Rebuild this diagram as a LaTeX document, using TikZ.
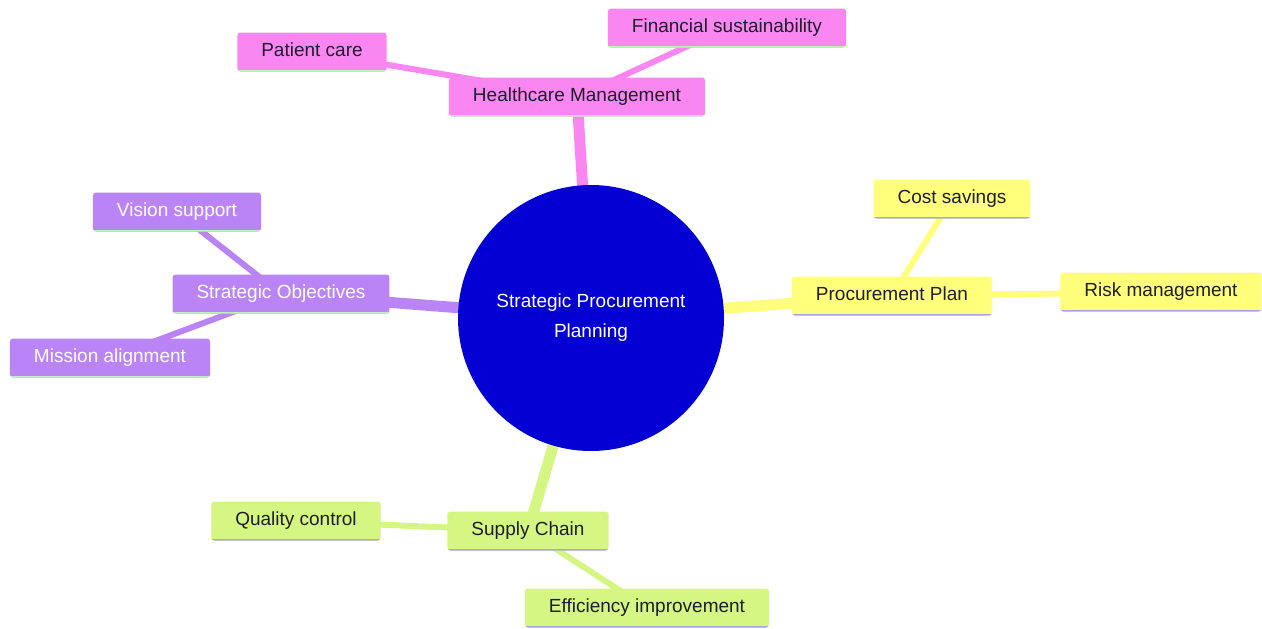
\documentclass[tikz,border=0pt]{standalone}
\usepackage{fontspec}
\setmainfont{Liberation Sans}
\usetikzlibrary{backgrounds}

\definecolor{hubblue}{RGB}{4,0,212}
\definecolor{hcpink}{RGB}{250,134,242}
\definecolor{stpurple}{RGB}{186,132,246}
\definecolor{ppyellow}{RGB}{255,255,124}
\definecolor{scgreen}{RGB}{214,246,132}
\definecolor{edgegreen}{RGB}{190,240,190}
\definecolor{edgelav}{RGB}{170,165,230}
\definecolor{textdark}{RGB}{30,30,40}

\tikzset{bottomline/.style = {path picture={%
    \draw[line width=4pt,#1] (path picture bounding box.south west) -- (path picture bounding box.south east);}}}
\tikzset{box/.style = {rectangle, rounded corners=3pt, minimum height=39pt,
    inner xsep=24pt, inner ysep=0pt, text height=13pt, text depth=4pt,
    font=\fontsize{19}{22}\selectfont}}
\tikzset{pinkbox/.style = {box, fill=hcpink, text=textdark, bottomline=edgegreen}}
\tikzset{purplebox/.style = {box, fill=stpurple, text=white, bottomline=edgegreen}}
\tikzset{yellowbox/.style = {box, fill=ppyellow, text=textdark, bottomline=edgelav}}
\tikzset{greenbox/.style = {box, fill=scgreen, text=textdark, bottomline=edgelav}}
\tikzset{branch/.style = {line width=11pt}}
\tikzset{twig/.style = {line width=6pt}}

\begin{document}
\begin{tikzpicture}[x=1pt, y=-1pt]
    \useasboundingbox (0,0) rectangle (1262,629);

    \node (hub) [circle, fill=hubblue, text=white, minimum size=266pt, align=center,
        font=\fontsize{19}{30}\selectfont] at (591,318) {Strategic Procurement\\Planning};

    \node (health) [pinkbox] at (577,97) {Healthcare Management};
    \node (care) [pinkbox] at (312,52) {Patient care};
    \node (finance) [pinkbox] at (727,28) {Financial sustainability};

    \node (objectives) [purplebox] at (281,294) {Strategic Objectives};
    \node (vision) [purplebox] at (177,212) {Vision support};
    \node (mission) [purplebox] at (110,358) {Mission alignment};

    \node (plan) [yellowbox] at (892,296) {Procurement Plan};
    \node (cost) [yellowbox] at (952,199) {Cost savings};
    \node (risk) [yellowbox] at (1161,292) {Risk management};

    \node (supply) [greenbox] at (528,531) {Supply Chain};
    \node (quality) [greenbox] at (296,521) {Quality control};
    \node (efficiency) [greenbox] at (647,608) {Efficiency improvement};

    \begin{scope}[on background layer]
        \draw[branch, hcpink] (hub.center) -- (health.center);
        \draw[branch, stpurple] (hub.center) -- (objectives.center);
        \draw[branch, ppyellow] (hub.center) -- (plan.center);
        \draw[branch, scgreen] (hub.center) -- (supply.center);

        \foreach \Target in {care, finance}
            \draw[twig, hcpink] (health.center) -- (\Target.center);
        \foreach \Target in {vision, mission}
            \draw[twig, stpurple] (objectives.center) -- (\Target.center);
        \foreach \Target in {cost, risk}
            \draw[twig, ppyellow] (plan.center) -- (\Target.center);
        \foreach \Target in {quality, efficiency}
            \draw[twig, scgreen] (supply.center) -- (\Target.center);
    \end{scope}
\end{tikzpicture}
\end{document}
